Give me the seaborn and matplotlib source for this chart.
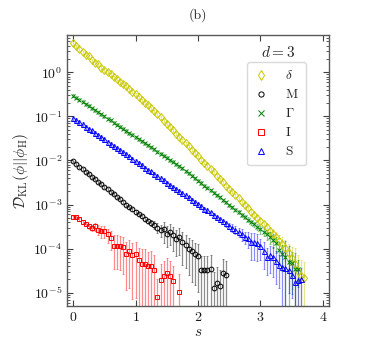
import numpy as np
import matplotlib
matplotlib.use("Agg")
import matplotlib.pyplot as plt
import seaborn as sns

# Sampling grid (s) shared by all series, step 0.05
s_grid = [0.00, 0.05, 0.10, 0.15, 0.20, 0.25, 0.30, 0.35, 0.40, 0.45,
          0.50, 0.55, 0.60, 0.65, 0.70, 0.75, 0.80, 0.85, 0.90, 0.95,
          1.00, 1.05, 1.10, 1.15, 1.20, 1.25, 1.30, 1.35, 1.40, 1.45,
          1.50, 1.55, 1.60, 1.65, 1.70, 1.75, 1.80, 1.85, 1.90, 1.95,
          2.00, 2.05, 2.10, 2.15, 2.20, 2.25, 2.30, 2.35, 2.40, 2.45,
          2.50, 2.55, 2.60, 2.65, 2.70, 2.75, 2.80, 2.85, 2.90, 2.95,
          3.00, 3.05, 3.10, 3.15, 3.20, 3.25, 3.30, 3.35, 3.40, 3.45,
          3.50, 3.55, 3.60, 3.65, 3.70]

# delta
kl_delta = [4.57, 3.89, 3.39, 2.82, 2.51, 2.29, 1.86, 1.66, 1.51, 1.26,
            1.10, 1.02, 0.891, 0.776, 0.708, 0.603, 0.537, 0.479, 0.407, 0.363,
            0.316, 0.275, 0.234, 0.204, 0.178, 0.151, 0.132, 0.112, 0.0955, 0.0794,
            0.0676, 0.0575, 0.0479, 0.0407, 0.0347, 0.0288, 0.0245, 0.0209, 0.0174, 0.0148,
            0.0126, 0.0105, 0.00891, 0.00759, 0.00631, 0.00537, 0.00447, 0.00380, 0.00324, 0.00269,
            0.00229, 0.00195, 0.00162, 0.00138, 0.00117, 9.77e-4, 8.32e-4, 6.92e-4, 5.89e-4, 5.01e-4,
            4.17e-4, 3.55e-4, 3.02e-4, 2.51e-4, 2.14e-4, 1.82e-4, 1.51e-4, 1.29e-4, 1.05e-4, 7.94e-5,
            6.03e-5, 4.57e-5, 3.16e-5, 2.40e-5, 2.19e-5]
err_delta = [0.08, 0.08, 0.08, 0.08, 0.08, 0.08, 0.08, 0.08, 0.08, 0.08,
             0.08, 0.08, 0.08, 0.08, 0.08, 0.08, 0.08, 0.08, 0.08, 0.08,
             0.08, 0.08, 0.08, 0.08, 0.08, 0.08, 0.08, 0.08, 0.08, 0.08,
             0.08, 0.08, 0.08, 0.08, 0.08, 0.08, 0.08, 0.08, 0.08, 0.08,
             0.08, 0.08, 0.08, 0.08, 0.08, 0.08, 0.08, 0.08, 0.08, 0.08,
             0.08, 0.08, 0.08, 0.08, 0.1, 0.1, 0.1, 0.12, 0.12, 0.15,
             0.15, 0.2, 0.2, 0.25, 0.3, 0.3, 0.35, 0.4, 0.5, 0.6,
             0.8, 1.3, 1.3, 1.3, 1.3]

# M
kl_m = [9.5e-3, 8.3e-3, 7.2e-3, 6.5e-3, 5.6e-3, 4.9e-3, 4.3e-3, 3.8e-3, 3.3e-3, 2.9e-3,
        2.5e-3, 2.24e-3, 1.95e-3, 1.70e-3, 1.48e-3, 1.32e-3, 1.15e-3, 1.0e-3, 8.7e-4, 7.8e-4,
        6.8e-4, 6.0e-4, 5.4e-4, 4.8e-4, 4.3e-4, 3.8e-4, 3.5e-4, 3.0e-4, 2.6e-4, 2.75e-4,
        2.2e-4, 2.4e-4, 2.0e-4, 1.66e-4, 1.82e-4, 1.41e-4, 1.2e-4, 1.0e-4, 8.9e-5, 7.6e-5,
        6.8e-5, 3.2e-5, 3.2e-5, 3.3e-5, 3.5e-5, 1.26e-5, 1.7e-5, 1.4e-5, 2.8e-5, 2.5e-5]
err_m = [0.05, 0.05, 0.05, 0.05, 0.05, 0.05, 0.05, 0.05, 0.05, 0.05,
         0.05, 0.05, 0.05, 0.05, 0.05, 0.05, 0.06, 0.06, 0.07, 0.07,
         0.08, 0.08, 0.1, 0.1, 0.12, 0.15, 0.2, 0.25, 0.3, 0.5,
         0.5, 0.5, 0.55, 0.6, 0.6, 0.7, 0.7, 0.75, 0.8, 0.8,
         0.85, 1.1, 1.1, 1.1, 1.1, 1.3, 1.3, 1.3, 1.1, 1.1]

# Gamma
kl_gamma = [0.295, 0.263, 0.240, 0.214, 0.191, 0.174, 0.155, 0.138, 0.123, 0.112,
            0.100, 0.0891, 0.0813, 0.0724, 0.0646, 0.0589, 0.0525, 0.0468, 0.0417, 0.0380,
            0.0339, 0.0302, 0.0275, 0.0245, 0.0219, 0.0200, 0.0178, 0.0158, 0.0141, 0.0129,
            0.0115, 0.0102, 0.00933, 0.00832, 0.00741, 0.00661, 0.00575, 0.00513, 0.00447, 0.00398,
            0.00347, 0.00309, 0.00269, 0.00240, 0.00209, 0.00186, 0.00162, 0.00145, 0.00126, 0.00112,
            9.77e-4, 8.71e-4, 7.59e-4, 6.76e-4, 5.89e-4, 5.25e-4, 4.57e-4, 3.98e-4, 3.55e-4, 3.16e-4,
            2.75e-4, 2.40e-4, 2.14e-4, 1.82e-4, 1.58e-4, 1.32e-4, 9.5e-5, 7.6e-5, 6.6e-5, 5.0e-5,
            4.7e-5, 3.5e-5, 3.4e-5]
err_gamma = [0.08, 0.08, 0.08, 0.08, 0.08, 0.08, 0.08, 0.08, 0.08, 0.08,
             0.08, 0.08, 0.08, 0.08, 0.08, 0.08, 0.08, 0.08, 0.08, 0.08,
             0.08, 0.08, 0.08, 0.08, 0.08, 0.08, 0.08, 0.08, 0.08, 0.08,
             0.08, 0.08, 0.08, 0.08, 0.08, 0.08, 0.08, 0.08, 0.08, 0.08,
             0.08, 0.08, 0.08, 0.08, 0.08, 0.08, 0.08, 0.08, 0.08, 0.08,
             0.08, 0.08, 0.08, 0.1, 0.1, 0.1, 0.12, 0.12, 0.15, 0.15,
             0.2, 0.2, 0.25, 0.3, 0.35, 0.4, 0.5, 0.6, 1.3, 1.3,
             0.8, 1.3, 0.6]

# I
kl_i = [5.1e-4, 5.1e-4, 4.6e-4, 4.1e-4, 3.6e-4, 3.2e-4, 2.95e-4, 3.2e-4, 2.7e-4, 2.5e-4,
        2.5e-4, 2.1e-4, 1.7e-4, 1.17e-4, 1.17e-4, 1.12e-4, 1.07e-4, 7.6e-5, 8.7e-5, 7.2e-5,
        7.6e-5, 5.4e-5, 4.6e-5, 4.6e-5, 4.1e-5, 4.0e-5, 3.3e-5, 8.0e-6, 1.9e-5, 2.4e-5,
        2.8e-5, 2.4e-5, 1.8e-5, np.nan, 1.05e-5]
err_i = [0.08, 0.08, 0.08, 0.1, 0.1, 0.12, 0.15, 0.2, 0.25, 0.3,
         0.3, 0.35, 0.45, 0.7, 0.7, 0.7, 0.75, 0.85, 0.85, 0.9,
         0.9, 0.95, 1.1, 1.1, 1.1, 1.2, 1.2, 1.5, 1.3, 1.2,
         1.2, 1.2, 1.3, 0.0, 1.5]

# S
kl_s = [0.0933, 0.0832, 0.0741, 0.0661, 0.0589, 0.0525, 0.0479, 0.0427, 0.0380, 0.0339,
        0.0302, 0.0269, 0.0240, 0.0214, 0.0191, 0.0174, 0.0155, 0.0138, 0.0123, 0.0110,
        0.00977, 0.00871, 0.00776, 0.00692, 0.00617, 0.00562, 0.00501, 0.00447, 0.00398, 0.00355,
        0.00316, 0.00282, 0.00251, 0.00224, 0.00204, 0.00182, 0.00162, 0.00145, 0.00129, 0.00115,
        0.00102, 9.12e-4, 8.13e-4, 7.41e-4, 6.61e-4, 5.89e-4, 5.25e-4, 4.68e-4, 4.17e-4, 3.72e-4,
        3.31e-4, 2.95e-4, 2.69e-4, 2.40e-4, 2.14e-4, 1.82e-4, 1.70e-4, 1.41e-4, 1.38e-4, 1.32e-4,
        1.12e-4, 8.71e-5, 6.46e-5, 7.08e-5, 6.46e-5, 5.25e-5, 4.27e-5, 3.80e-5, 3.63e-5, 3.31e-5,
        2.51e-5, 1.78e-5, 1.95e-5, 2.0e-5]
err_s = [0.1, 0.1, 0.1, 0.1, 0.1, 0.1, 0.1, 0.1, 0.1, 0.1,
         0.1, 0.1, 0.1, 0.1, 0.1, 0.1, 0.1, 0.1, 0.1, 0.1,
         0.1, 0.1, 0.1, 0.1, 0.1, 0.1, 0.1, 0.1, 0.1, 0.1,
         0.1, 0.1, 0.1, 0.1, 0.1, 0.1, 0.1, 0.1, 0.1, 0.1,
         0.1, 0.1, 0.1, 0.1, 0.1, 0.1, 0.12, 0.12, 0.15, 0.15,
         0.15, 0.2, 0.2, 0.25, 0.3, 0.3, 0.4, 0.6, 0.6, 0.6,
         0.5, 0.6, 0.6, 0.6, 0.65, 0.7, 0.7, 1.3, 1.3, 0.7,
         0.7, 0.8, 0.8, 0.8]

series = [
    (r'$\delta$', kl_delta, err_delta, 'd', '#c8c800', 4.3),
    (r'$\mathrm{M}$', kl_m, err_m, 'o', 'k', 3.4),
    (r'$\Gamma$', kl_gamma, err_gamma, 'x', 'g', 3.4),
    (r'$\mathrm{I}$', kl_i, err_i, 's', 'r', 3.4),
    (r'$\mathrm{S}$', kl_s, err_s, '^', 'b', 3.6),
]
y_ticks = [1e-5, 1e-4, 1e-3, 1e-2, 1e-1, 1e0]

sns.set_style('ticks')
plt.rcParams['font.family'] = ['serif']
plt.rcParams['font.serif'] = ['cmr10', 'DejaVu Serif']
plt.rcParams['mathtext.fontset'] = 'cm'
plt.rcParams['axes.formatter.use_mathtext'] = True

fig = plt.figure(figsize=(3.74, 3.40), dpi=100)
ax = fig.add_axes([0.179, 0.10, 0.701, 0.797])
ax.set_yscale('log')

for label, vals, rel, mk, col, ms in series:
    x = np.array(s_grid[:len(vals)])
    y = np.array(vals, dtype=float)
    e = y * np.array(rel)
    ax.errorbar(x, y, yerr=e, fmt='none', ecolor=col, alpha=0.45,
                elinewidth=0.9, capsize=1, capthick=0.6, zorder=1)
    ok = ~np.isnan(y)
    sns.lineplot(x=x[ok], y=y[ok], ax=ax, linestyle='', marker=mk,
                 color=col, markerfacecolor='none', markeredgecolor=col,
                 markersize=ms, markeredgewidth=0.7, label=label,
                 estimator=None, sort=False, zorder=3)

ax.set_xlim(-0.1, 4.1)
ax.set_ylim(5e-6, 7)
ax.set_xticks([0, 1, 2, 3, 4])
ax.set_yticks(y_ticks)
ax.tick_params(which='both', direction='in', top=True, right=True,
               labelsize=10, colors='0.25', labelcolor='0.1')
ax.tick_params(which='major', length=4, width=0.8)
ax.tick_params(which='minor', length=2, width=0.6)
ax.xaxis.set_minor_locator(matplotlib.ticker.NullLocator())
for sp in ax.spines.values():
    sp.set_color('0.35')
    sp.set_linewidth(1.0)

ax.set_xlabel(r'$s$', fontsize=11, labelpad=1)
ax.set_ylabel(r'$\mathcal{D}_{\rm KL}(\phi||\phi_{\rm H})$', fontsize=11, labelpad=2)
ax.set_title('(b)', fontsize=10, pad=12)

ax.text(0.805, 0.937, r'$d=3$', transform=ax.transAxes, ha='center',
        va='center', fontsize=11)
leg = ax.legend(loc='upper right', bbox_to_anchor=(0.912, 0.90),
                borderaxespad=0, frameon=True, fancybox=True,
                edgecolor='0.85', framealpha=1,
                handlelength=1.0, handletextpad=1.3, borderpad=0.55,
                labelspacing=0.45, fontsize=9.5, markerscale=1.1)

fig.savefig('out.png', dpi=100)
